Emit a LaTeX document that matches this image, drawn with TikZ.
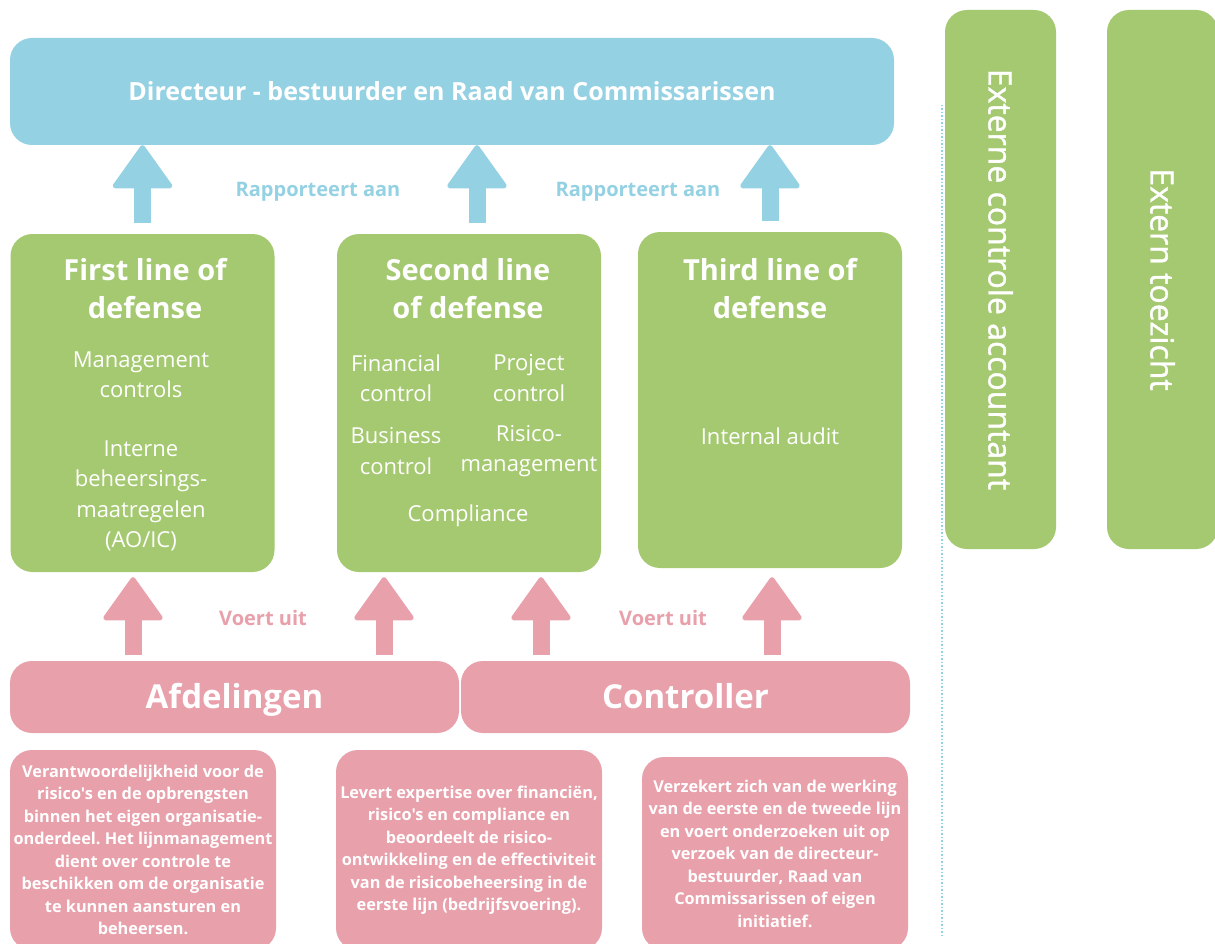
\documentclass[tikz,border=0pt]{standalone}
\usepackage{fontspec}
\setmainfont{Open Sans}[Ligatures=TeXOff]
\usetikzlibrary{arrows.meta}
\frenchspacing

\definecolor{lodblue}{HTML}{94D1E3}
\definecolor{lodgreen}{HTML}{A5C971}
\definecolor{lodpink}{HTML}{E8A0AB}

\newcommand{\fs}[2]{\fontsize{#1}{#2}\selectfont}

\begin{document}
\begin{tikzpicture}[x=1pt, y=-1pt,
  box/.style={rounded corners=22pt, text=white, inner sep=0pt, align=center},
  linebox/.style={box, fill=lodgreen, minimum width=264pt, minimum height=338pt},
  partbox/.style={box, fill=lodpink, minimum width=449pt, minimum height=72pt, text height=28pt, text depth=6pt, font=\bfseries\fs{33}{36}},
  notebox/.style={box, fill=lodpink, minimum width=266pt, minimum height=200pt, font=\bfseries\fs{16.3}{22.5}},
  sidebox/.style={box, fill=lodgreen, rotate=-90, minimum width=539pt, minimum height=111pt, font=\fs{32}{36}\addfontfeature{FakeBold=1.2}},
  title/.style={text=white, align=center, inner sep=0pt, font=\bfseries\fs{29}{38}},
  body/.style={text=white, align=center, inner sep=0pt, font=\fs{22}{30.5}},
  upblue/.style={draw=lodblue, line width=17pt, shorten <=11pt,
    -{Triangle[length=45pt, width=63pt, round, line width'=5pt]}},
  uppink/.style={draw=lodpink, line width=17pt, shorten <=6pt, shorten >=5pt,
    -{Triangle[length=45pt, width=63pt, round, line width'=5pt]}},
]
  \clip (0,0) rectangle (1215,944);
  \fill[white] (0,0) rectangle (1215,944);

  % top: board
  \node[box, fill=lodblue, minimum width=884pt, minimum height=107pt, font=\bfseries\fs{25}{28}] (dir) at (452,91.5) {Directeur - bestuurder en Raad van Commissarissen};

  % three lines of defense
  \node[linebox] (first) at (142.5,403) {};
  \node[linebox] (second) at (469,403) {};
  \node[linebox, minimum height=336pt] (third) at (770,400) {};

  \node[title] (firstT) at (145,289) {First line of\\defense};
  \node[body] (firstA) at (141,375) {Management\\controls};
  \node[body] (firstB) at (141,496) {Interne\\beheersings-\\maatregelen\\(AO/IC)};

  \node[title] (secondT) at (468,289) {Second line\\of defense};
  \node[body] (secondA) at (396,378) {Financial\\control};
  \node[body] (secondB) at (529,378) {Project\\control};
  \node[body] (secondC) at (396,451) {Business\\control};
  \node[body] (secondD) at (529,451) {Risico-\\management};
  \node[body] (secondE) at (468,516) {Compliance};

  \node[title] (thirdT) at (770,289) {Third line of\\defense};
  \node[body] (thirdA) at (770,436) {Internal audit};

  % reporting arrows
  \draw[upblue] (first.north) -- (first.north |- dir.south);
  \draw[upblue] ([xshift=8pt]second.north) -- ([xshift=8pt]second.north |- dir.south);
  \draw[upblue] (third.north) -- (third.north |- dir.south);
  \node[text=lodblue, font=\bfseries\fs{20}{24}] (rep1) at (318,192) {Rapporteert aan};
  \node[text=lodblue, font=\bfseries\fs{20}{24}] (rep2) at (638,192) {Rapporteert aan};

  % executing parties
  \node[partbox] (afd) at (234.5,697) {Afdelingen};
  \node[partbox] (ctrl) at (685.5,697) {Controller};

  \draw[uppink] ([xshift=-9.5pt]first.south |- afd.north) -- ([xshift=-9.5pt]first.south);
  \draw[uppink] ([xshift=-85pt]second.south |- afd.north) -- ([xshift=-85pt]second.south);
  \draw[uppink] ([xshift=72pt]second.south |- ctrl.north) -- ([xshift=72pt]second.south);
  \draw[uppink, shorten >=9pt] ([xshift=2pt]third.south |- ctrl.north) -- ([xshift=2pt]third.south);
  \node[text=lodpink, font=\bfseries\fs{20}{24}] (exec1) at (263,618) {Voert uit};
  \node[text=lodpink, font=\bfseries\fs{20}{24}] (exec2) at (663,618) {Voert uit};

  % descriptions
  \node[notebox] (noteA) at (143,850) {Verantwoordelijkheid voor de\\risico's en de opbrengsten\\binnen het eigen organisatie-\\onderdeel. Het lijnmanagement\\dient over controle te\\beschikken om de organisatie\\te kunnen aansturen en\\beheersen.};
  \node[notebox] (noteB) at (469,850) {Levert expertise over financiën,\\risico's en compliance en\\beoordeelt de risico-\\ontwikkeling en de effectiviteit\\van de risicobeheersing in de\\eerste lijn (bedrijfsvoering).};
  \node[notebox, minimum height=193pt] (noteC) at (775,853.5) {Verzekert zich van de werking\\van de eerste en de tweede lijn\\en voert onderzoeken uit op\\verzoek van de directeur-\\bestuurder, Raad van\\Commissarissen of eigen\\initiatief.};

  % external parties
  \draw[lodblue, dotted, line width=1.5pt] (942,105) -- (942,935);
  \node[sidebox] (acc) at (1000.5,279.5) {Externe controle accountant};
  \node[sidebox] (tz) at (1162.5,279.5) {Extern toezicht};
\end{tikzpicture}
\end{document}
